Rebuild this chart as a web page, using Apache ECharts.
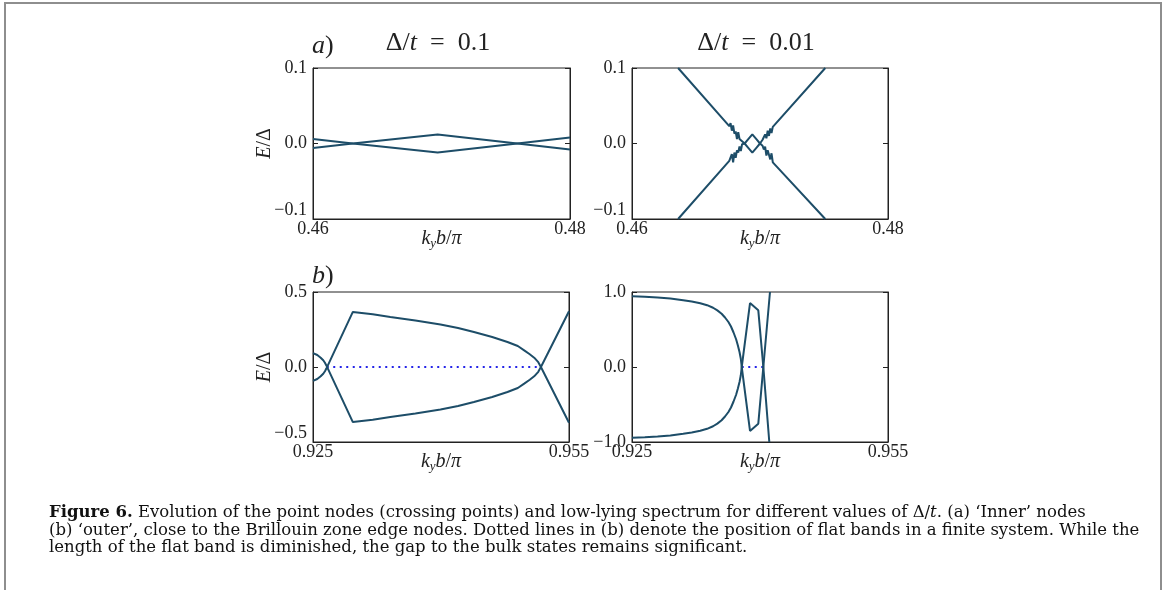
<!DOCTYPE html>
<html>
<head>
<meta charset="utf-8">
<script src="https://cdn.jsdelivr.net/npm/echarts@6/dist/echarts.min.js"></script>
<style>
  html, body { margin: 0; padding: 0; background: #fff; }
  #chart { width: 1168px; height: 590px; }
</style>
</head>
<body>
<div id="chart"></div>
<script>
// ---- data: low-lying bands E/Δ versus k_y b/π ----

// (a) inner nodes, Δ/t = 0.1
const aLeftK   = [0.4600, 0.4631, 0.4697, 0.4759, 0.4800];
const aLeftUp  = [0.0060, 0.0000, -0.0120, 0.0000, 0.0080];
const aLeftDn  = [-0.0060, 0.0000, 0.0120, 0.0000, -0.0080];

// (a) inner nodes, Δ/t = 0.01 (ragged near the crossings)
const aRightK  = [0.4636, 0.4676, 0.4677, 0.4678, 0.4679, 0.4680, 0.4681, 0.4682, 0.4683, 0.4684, 0.4685, 0.4686,
                  0.4688, 0.4691, 0.4694, 0.4697, 0.4700,
                  0.4702, 0.4703, 0.4704, 0.4705, 0.4706, 0.4707, 0.4708, 0.4709, 0.4710, 0.4751];
const aRightUp = [0.100, 0.023, 0.027, 0.017, 0.024, 0.013, 0.016, 0.006, 0.015, 0.006, 0.008, 0.003,
                  0.000, -0.006, -0.012, -0.006, 0.000,
                  -0.003, -0.008, -0.004, -0.016, -0.009, -0.015, -0.021, -0.013, -0.025, -0.100];
const aRightDn = [-0.100, -0.023, -0.022, -0.014, -0.025, -0.012, -0.019, -0.009, -0.012, -0.004, -0.010, -0.001,
                  0.000, 0.006, 0.012, 0.006, 0.000,
                  0.005, 0.004, 0.012, 0.007, 0.017, 0.010, 0.020, 0.014, 0.022, 0.100];

// (b) outer nodes, Δ/t = 0.1
const bLeftK   = [0.9250, 0.9255, 0.9259, 0.9262, 0.9264, 0.92655, 0.92661, 0.92967, 0.9320, 0.93406,
                  0.9370, 0.93994, 0.9420, 0.94386, 0.9460, 0.94779, 0.9490, 0.94975, 0.9504, 0.95092,
                  0.95140, 0.95171, 0.9550];
const bLeftUp  = [0.093, 0.080, 0.062, 0.045, 0.028, 0.012, 0.000, -0.367, -0.352, -0.334,
                  -0.310, -0.284, -0.260, -0.233, -0.200, -0.167, -0.140, -0.111, -0.085, -0.062,
                  -0.032, 0.000, 0.372];
const bLeftDn  = [-0.093, -0.080, -0.062, -0.045, -0.028, -0.012, 0.000, 0.367, 0.352, 0.334,
                  0.310, 0.284, 0.260, 0.233, 0.200, 0.167, 0.140, 0.111, 0.085, 0.062,
                  0.032, 0.000, -0.372];
const bLeftFlatK = [0.92661, 0.95171];
const bLeftFlatE = [0, 0];

// (b) outer nodes, Δ/t = 0.01
const bRightKUp = [0.9250, 0.9265, 0.9280, 0.9295, 0.9310, 0.9320, 0.9330, 0.9338, 0.9345, 0.9350,
                   0.9355, 0.9359, 0.9363, 0.9366, 0.9369, 0.9372, 0.9374, 0.9376, 0.93775, 0.93786,
                   0.93883, 0.93980, 0.94039, 0.94117];
const bRightUp  = [0.942, 0.937, 0.928, 0.912, 0.890, 0.872, 0.850, 0.824, 0.790, 0.755,
                   0.710, 0.660, 0.600, 0.540, 0.460, 0.370, 0.290, 0.200, 0.110, 0.000,
                   -0.853, -0.756, 0.000, 1.000];
const bRightKDn = [0.9250, 0.9265, 0.9280, 0.9295, 0.9310, 0.9320, 0.9330, 0.9338, 0.9345, 0.9350,
                   0.9355, 0.9359, 0.9363, 0.9366, 0.9369, 0.9372, 0.9374, 0.9376, 0.93775, 0.93786,
                   0.93883, 0.93980, 0.94039, 0.94109];
const bRightDn  = [-0.942, -0.937, -0.928, -0.912, -0.890, -0.872, -0.850, -0.824, -0.790, -0.755,
                   -0.710, -0.660, -0.600, -0.540, -0.460, -0.370, -0.290, -0.200, -0.110, 0.000,
                   0.853, 0.756, 0.000, -1.000];
const bRightFlatK = [0.93786, 0.94039];
const bRightFlatE = [0, 0];

// axis ranges and tick settings
const xRangeA = [0.46, 0.48];
const xRangeB = [0.925, 0.955];
const yRanges = [[-0.1, 0.1, 0.1], [-0.1, 0.1, 0.1], [-0.5, 0.5, 0.5], [-1.0, 1.0, 1.0]];
const panelTitles = ['0.1', '0.01'];

// ---- drawing ----
const BAND = '#1d4d68';
const FLAT = '#2424e8';
const INK = '#222';
const SERIF = '"Liberation Serif", "DejaVu Serif", serif';
const CAPTION = '"DejaVu Serif", "Liberation Serif", serif';

const chart = echarts.init(document.getElementById('chart'), null, { renderer: 'canvas' });

const pairs = (ks, es) => ks.map((k, i) => [k, es[i]]);
const fmt = (v, d) => Math.abs(v) < 1e-12 ? (0).toFixed(d) : (v < 0 ? '\u2212' : '') + Math.abs(v).toFixed(d);

const grids = [
  { left: 313, top: 68, width: 257, height: 151 },
  { left: 632, top: 68, width: 256, height: 151 },
  { left: 313, top: 292, width: 256, height: 150 },
  { left: 632, top: 292, width: 256, height: 150 }
].map(g => Object.assign(g, { show: true, borderColor: INK, borderWidth: 1, backgroundColor: 'transparent' }));

const nameRich = {
  i: { fontFamily: SERIF, fontStyle: 'italic', fontSize: 20, color: INK },
  s: { fontFamily: SERIF, fontStyle: 'italic', fontSize: 13, color: INK, padding: [10, 0, 0, 0], verticalAlign: 'bottom' },
  n: { fontFamily: SERIF, fontSize: 20, color: INK }
};

function xAxisFor(gi, range, digits) {
  return {
    type: 'value', gridIndex: gi, min: range[0], max: range[1], position: 'bottom',
    name: '{i|k}{s|y}{i|b}{n|/}{i|π}', nameLocation: 'middle', nameGap: 8, nameMoveOverlap: false,
    nameTextStyle: { rich: nameRich },
    axisLine: { show: true, onZero: false, lineStyle: { color: INK, width: 1 } },
    axisTick: { show: true, inside: true, length: 5, customValues: range, lineStyle: { color: INK } },
    axisLabel: {
      customValues: range, formatter: v => fmt(v, digits), margin: 1,
      color: INK, fontFamily: SERIF, fontSize: 18
    },
    splitLine: { show: false }
  };
}

function yAxesFor(gi, r, showName, shiftMin) {
  const base = {
    type: 'value', gridIndex: gi, min: r[0], max: r[1], interval: r[2],
    splitLine: { show: false },
    axisLine: { show: true, onZero: false, lineStyle: { color: INK, width: 1 } },
    axisTick: { show: true, inside: true, length: 5, lineStyle: { color: INK } }
  };
  const left = Object.assign({}, base, {
    position: 'left',
    axisLabel: {
      formatter: v => fmt(v, 1), margin: 6, color: INK, fontFamily: SERIF, fontSize: 18,
      verticalAlignMinLabel: shiftMin ? 'bottom' : 'middle'
    }
  });
  if (showName) {
    Object.assign(left, {
      name: '{i|E}{n|/Δ}', nameLocation: 'middle', nameGap: 38, nameMoveOverlap: false,
      nameTextStyle: { rich: { i: nameRich.i, n: nameRich.n } }
    });
  }
  const right = Object.assign({}, base, { position: 'right', axisLabel: { show: false } });
  return [left, right];
}

const xAxes = [xAxisFor(0, xRangeA, 2), xAxisFor(1, xRangeA, 2), xAxisFor(2, xRangeB, 3), xAxisFor(3, xRangeB, 3)];
const yAxes = [].concat(
  yAxesFor(0, yRanges[0], true, true),
  yAxesFor(1, yRanges[1], false, true),
  yAxesFor(2, yRanges[2], true, true),
  yAxesFor(3, yRanges[3], false, false)
);

function band(gi, data) {
  return {
    type: 'line', xAxisIndex: gi, yAxisIndex: gi * 2, data, showSymbol: false, symbol: 'none',
    lineStyle: { color: BAND, width: 2 }, silent: true, clip: true, z: 3
  };
}
function flat(gi, data) {
  return {
    type: 'line', xAxisIndex: gi, yAxisIndex: gi * 2, data, showSymbol: false, symbol: 'none',
    lineStyle: { color: FLAT, width: 2, type: [2, 4.5] }, silent: true, z: 2
  };
}

const series = [
  band(0, pairs(aLeftK, aLeftUp)), band(0, pairs(aLeftK, aLeftDn)),
  band(1, pairs(aRightK, aRightUp)), band(1, pairs(aRightK, aRightDn)),
  flat(2, pairs(bLeftFlatK, bLeftFlatE)),
  band(2, pairs(bLeftK, bLeftUp)), band(2, pairs(bLeftK, bLeftDn)),
  flat(3, pairs(bRightFlatK, bRightFlatE)),
  band(3, pairs(bRightKUp, bRightUp)), band(3, pairs(bRightKDn, bRightDn))
];

const titleRich = {
  n: { fontFamily: SERIF, fontSize: 26, fill: INK },
  i: { fontFamily: SERIF, fontSize: 26, fontStyle: 'italic', fill: INK }
};
const capRich = {
  b: { fontFamily: CAPTION, fontSize: 16.5, fontWeight: 'bold', fill: '#111' },
  i: { fontFamily: CAPTION, fontSize: 16.5, fontStyle: 'italic', fill: '#111' }
};
const captionLines = [
  '{b|Figure 6.} Evolution of the point nodes (crossing points) and low-lying spectrum for different values of Δ/{i|t}. (a) ‘Inner’ nodes',
  '(b) ‘outer’, close to the Brillouin zone edge nodes. Dotted lines in (b) denote the position of flat bands in a finite system. While the',
  'length of the flat band is diminished, the gap to the bulk states remains significant.'
];

const graphic = [
  { type: 'rect', silent: true, shape: { x: 5, y: 3, width: 1156, height: 640 },
    style: { fill: 'none', stroke: '#8e8e8e', lineWidth: 2 } },
  { type: 'text', silent: true, x: 312, y: 46,
    style: { text: '{i|a})', rich: titleRich, font: '26px ' + SERIF, fill: INK, verticalAlign: 'middle' } },
  { type: 'text', silent: true, x: 312, y: 276,
    style: { text: '{i|b})', rich: titleRich, font: '26px ' + SERIF, fill: INK, verticalAlign: 'middle' } },
  { type: 'text', silent: true, x: 438, y: 43,
    style: { text: '{n|Δ/}{i|t}{n|\u2002=\u20020.1}'.replace('0.1', panelTitles[0]), rich: titleRich, font: '26px ' + SERIF,
             fill: INK, align: 'center', verticalAlign: 'middle' } },
  { type: 'text', silent: true, x: 756, y: 43,
    style: { text: '{n|Δ/}{i|t}{n|\u2002=\u20020.1}'.replace('0.1', panelTitles[1]), rich: titleRich, font: '26px ' + SERIF,
             fill: INK, align: 'center', verticalAlign: 'middle' } }
].concat(captionLines.map((t, i) => ({
  type: 'text', silent: true, x: 49, y: 513 + i * 17.5,
  style: { text: t, rich: capRich, font: '16.5px ' + CAPTION, fill: '#111', verticalAlign: 'middle' }
})));

chart.setOption({
  animation: false,
  backgroundColor: '#fff',
  grid: grids,
  xAxis: xAxes,
  yAxis: yAxes,
  series,
  graphic
});
</script>
</body>
</html>
